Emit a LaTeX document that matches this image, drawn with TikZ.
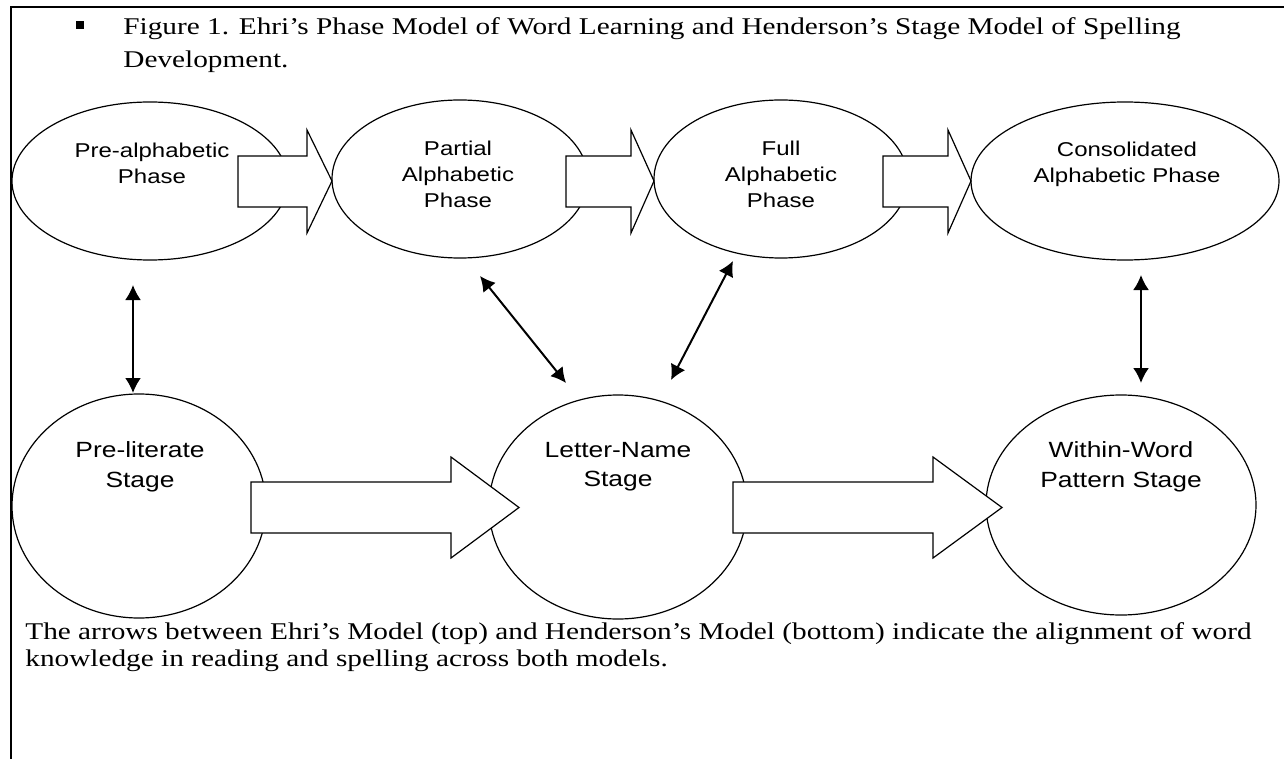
\documentclass[tikz,border=0pt]{standalone}
\usepackage{fontspec}
\setmainfont{Liberation Serif}[FakeStretch=1.22]
\setsansfont{Liberation Sans}[FakeStretch=1.2]
\usetikzlibrary{arrows.meta, shapes.geometric}

\begin{document}
\begin{tikzpicture}[x=0.5pt, y=-0.5pt]
    \tikzstyle{phase_style} = [draw, ellipse, line width=0.6pt, inner sep=0pt]
    \tikzstyle{phase_text} = [font=\sffamily\fontsize{10}{13}\selectfont, align=center, inner sep=0pt]
    \tikzstyle{stage_text} = [font=\sffamily\fontsize{11}{14.7}\selectfont, align=center, inner sep=0pt]
    \tikzstyle{block_style} = [draw, fill=white, line width=0.6pt, line join=miter]
    \tikzstyle{link_style} = [{Latex[length=7.5pt,width=8pt]}-{Latex[length=7.5pt,width=8pt]}, line width=1pt]
    \tikzstyle{body_text} = [font=\fontsize{12}{14}\selectfont, anchor=base west, inner sep=0pt]

    \useasboundingbox (0,0) rectangle (1284,759);
    \draw[line width=1.2pt] (11,759) -- (11,7) -- (1284,7);

    % title
    \node[fill, minimum size=4pt, inner sep=0pt] (bullet) at (80,25) {};
    \node[body_text] (title1) at (123,35) {Figure 1. Ehri’s Phase Model of Word Learning and Henderson’s Stage Model of Spelling};
    \node[body_text] (title2) at (123,68) {Development.};

    % Ehri's phases
    \node[phase_style, minimum width=138pt, minimum height=79pt] (pre) at (150,181) {};
    \node[phase_style, minimum width=128pt, minimum height=79pt] (partial) at (460,179) {};
    \node[phase_style, minimum width=127pt, minimum height=79pt] (full) at (781,179) {};
    \node[phase_style, minimum width=154pt, minimum height=79pt] (consol) at (1125,181) {};

    % Henderson's stages
    \node[phase_style, minimum width=127pt, minimum height=112pt] (prelit) at (139,506) {};
    \node[phase_style, minimum width=129pt, minimum height=112pt] (letter) at (618,507) {};
    \node[phase_style, minimum width=135pt, minimum height=110pt] (within) at (1121,505) {};

    % block arrows
    \draw[block_style] (238,156) -- (307,156) -- (307,130) -- (332,181) -- (307,233) -- (307,207) -- (238,207) -- cycle;
    \draw[block_style] (566,156) -- (631,156) -- (631,130) -- (654,181) -- (631,233) -- (631,207) -- (566,207) -- cycle;
    \draw[block_style] (883,156) -- (948,156) -- (948,130) -- (971,181) -- (948,233) -- (948,207) -- (883,207) -- cycle;
    \draw[block_style] (251,482) -- (451,482) -- (451,457) -- (519,507.5) -- (451,558) -- (451,533) -- (251,533) -- cycle;
    \draw[block_style] (733,482) -- (933,482) -- (933,457) -- (1002,507.5) -- (933,558) -- (933,533) -- (733,533) -- cycle;

    % labels
    \node[phase_text] (preT) at (152,163) {Pre-alphabetic\\Phase};
    \node[phase_text] (partialT) at (458,174) {Partial\\Alphabetic\\Phase};
    \node[phase_text] (fullT) at (781,174) {Full\\Alphabetic\\Phase};
    \node[phase_text] (consolT) at (1127,164) {Consolidated\\Alphabetic Phase};
    \node[stage_text] (prelitT) at (140,467) {Pre-literate\\Stage};
    \node[stage_text] (letterT) at (618,467) {Letter-Name\\Stage};
    \node[stage_text] (withinT) at (1121,467) {Within-Word\\Pattern Stage};

    % alignment links
    \coordinate (a1) at (133,285);
    \coordinate (a2) at (133,393);
    \coordinate (b1) at (480,276);
    \coordinate (b2) at (566,383);
    \coordinate (c1) at (733,261);
    \coordinate (c2) at (671,380);
    \coordinate (d1) at (1141,275);
    \coordinate (d2) at (1141,383);
    \draw[link_style] (a1) -- (a2);
    \draw[link_style] (b1) -- (b2);
    \draw[link_style] (c1) -- (c2);
    \draw[link_style] (d1) -- (d2);

    % caption
    \node[body_text] (note1) at (25,639) {The arrows between Ehri’s Model (top) and Henderson’s Model (bottom) indicate the alignment of word};
    \node[body_text] (note2) at (25,666) {knowledge in reading and spelling across both models.};
\end{tikzpicture}
\end{document}
